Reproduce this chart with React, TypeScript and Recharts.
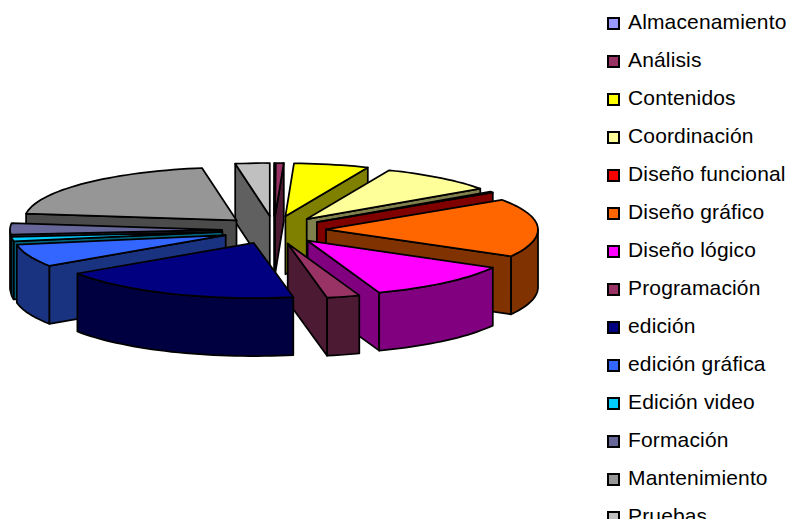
import React from "react";
import { PieChart, Pie, Legend } from "recharts";

// Share of each task
const categories = [
  "Almacenamiento", "Análisis", "Contenidos", "Coordinación", "Diseño funcional", "Diseño gráfico", "Diseño lógico",
  "Programación", "edición", "edición gráfica", "Edición video", "Formación", "Mantenimiento", "Pruebas",
];
const shares = [0.05, 0.6, 5.7, 8.9, 0.3, 17.5, 11.4, 2.5, 18.6, 6.6, 1.3, 3.4, 20.4, 2.6];
const topColors = [
  "#9999ff", "#993366", "#ffff00", "#ffff99", "#ff0000", "#ff6600", "#ff00ff",
  "#993366", "#000080", "#3366ff", "#00ccff", "#666699", "#969696", "#c0c0c0",
];
const wallColors = [
  "#4d4d80", "#4d1a33", "#808000", "#80804d", "#800000", "#803300", "#800080",
  "#4d1a33", "#000040", "#1a3380", "#006680", "#33334d", "#4b4b4b", "#606060",
];

const data = categories.map((name, i) => ({ name, value: shares[i], fill: topColors[i], wall: wallColors[i] }));
const reversed = [...data].reverse();

const TILT_BACK = 0.25;
const TILT_FRONT = 0.26;
const DEPTH = 58;
const EXPLODE = 52;
const EXPLODE_TILT = 0.27;

const rad = (d: number) => (d * Math.PI) / 180;

// angles here run clockwise from 12 o'clock
function rim(ax: number, ay: number, r: number, deg: number): [number, number] {
  const c = Math.cos(rad(deg));
  return [ax + Math.sin(rad(deg)) * r, ay - c * r * (c > 0 ? TILT_BACK : TILT_FRONT)];
}

const toPath = (pts: [number, number][]) => "M" + pts.map((p) => p[0].toFixed(1) + "," + p[1].toFixed(1)).join("L") + "Z";

function arcPoints(ax: number, ay: number, r: number, from: number, to: number) {
  const n = Math.max(1, Math.ceil((to - from) / 2));
  const pts: [number, number][] = [];
  for (let i = 0; i <= n; i++) pts.push(rim(ax, ay, r, from + ((to - from) * i) / n));
  return pts;
}

function Slice(props: any, side: "right" | "left") {
  const { cx, cy, outerRadius, startAngle, endAngle, fill, wall } = props;
  let lo = Math.min(90 - startAngle, 90 - endAngle);
  let hi = Math.max(90 - startAngle, 90 - endAngle);
  while (lo < 0) {
    lo += 360;
    hi += 360;
  }
  const mid = (lo + hi) / 2;
  if ((mid < 180) !== (side === "right")) return <g />;

  const ax = cx + Math.sin(rad(mid)) * EXPLODE;
  const ay = cy - Math.cos(rad(mid)) * EXPLODE * EXPLODE_TILT;
  const apex: [number, number] = [ax, ay];
  const down = (p: [number, number]): [number, number] => [p[0], p[1] + DEPTH];
  const common = { stroke: "#000", strokeWidth: 1.75, strokeLinejoin: "round" as const };

  const faces: React.ReactNode[] = [];
  const radial = (deg: number, key: string) => {
    const p = rim(ax, ay, outerRadius, deg);
    faces.push(<path key={key} d={toPath([apex, p, down(p), down(apex)])} fill={wall} {...common} />);
  };
  if (Math.sin(rad(lo)) < 0) radial(lo, "start");
  if (Math.sin(rad(hi)) > 0) radial(hi, "end");
  const from = Math.max(lo, 90);
  const to = Math.min(hi, 270);
  if (to > from) {
    const arc = arcPoints(ax, ay, outerRadius, from, to);
    faces.push(<path key="outer" d={toPath([...arc, ...arc.map(down).reverse()])} fill={wall} {...common} />);
  }
  faces.push(<path key="top" d={toPath([apex, ...arcPoints(ax, ay, outerRadius, lo, hi)])} fill={fill} {...common} />);
  return <g>{faces}</g>;
}

function LegendRows() {
  return (
    <div>
      {categories.map((name, i) => (
        <div key={name} style={{ height: 38, display: "flex", alignItems: "center", fontFamily: "'Liberation Sans', Arial, sans-serif", fontSize: 21, letterSpacing: 0.15, color: "#000", whiteSpace: "nowrap" }}>
          <span style={{ width: 9, height: 9, border: "2px solid #000", background: topColors[i], marginRight: 8, marginTop: 3, flex: "none" }} />
          {name}
        </div>
      ))}
    </div>
  );
}

export default function App() {
  return (
    <div style={{ position: "absolute", left: 0, top: 0, width: 789, height: 519, overflow: "hidden", background: "#fff" }}>
      <PieChart width={789} height={519} margin={{ top: 0, right: 0, bottom: 0, left: 0 }}>
        <Pie
          data={data}
          dataKey="value"
          nameKey="name"
          cx={274}
          cy={230}
          outerRadius={212}
          startAngle={90}
          endAngle={-270}
          isAnimationActive={false}
          shape={(p: any) => Slice(p, "right")}
        />
        <Pie
          data={reversed}
          dataKey="value"
          nameKey="name"
          cx={274}
          cy={230}
          outerRadius={212}
          startAngle={90}
          endAngle={450}
          isAnimationActive={false}
          legendType="none"
          shape={(p: any) => Slice(p, "left")}
        />
        <Legend content={<LegendRows />} wrapperStyle={{ position: "absolute", left: 607, top: 3, width: 182, bottom: "auto" }} />
      </PieChart>
    </div>
  );
}
